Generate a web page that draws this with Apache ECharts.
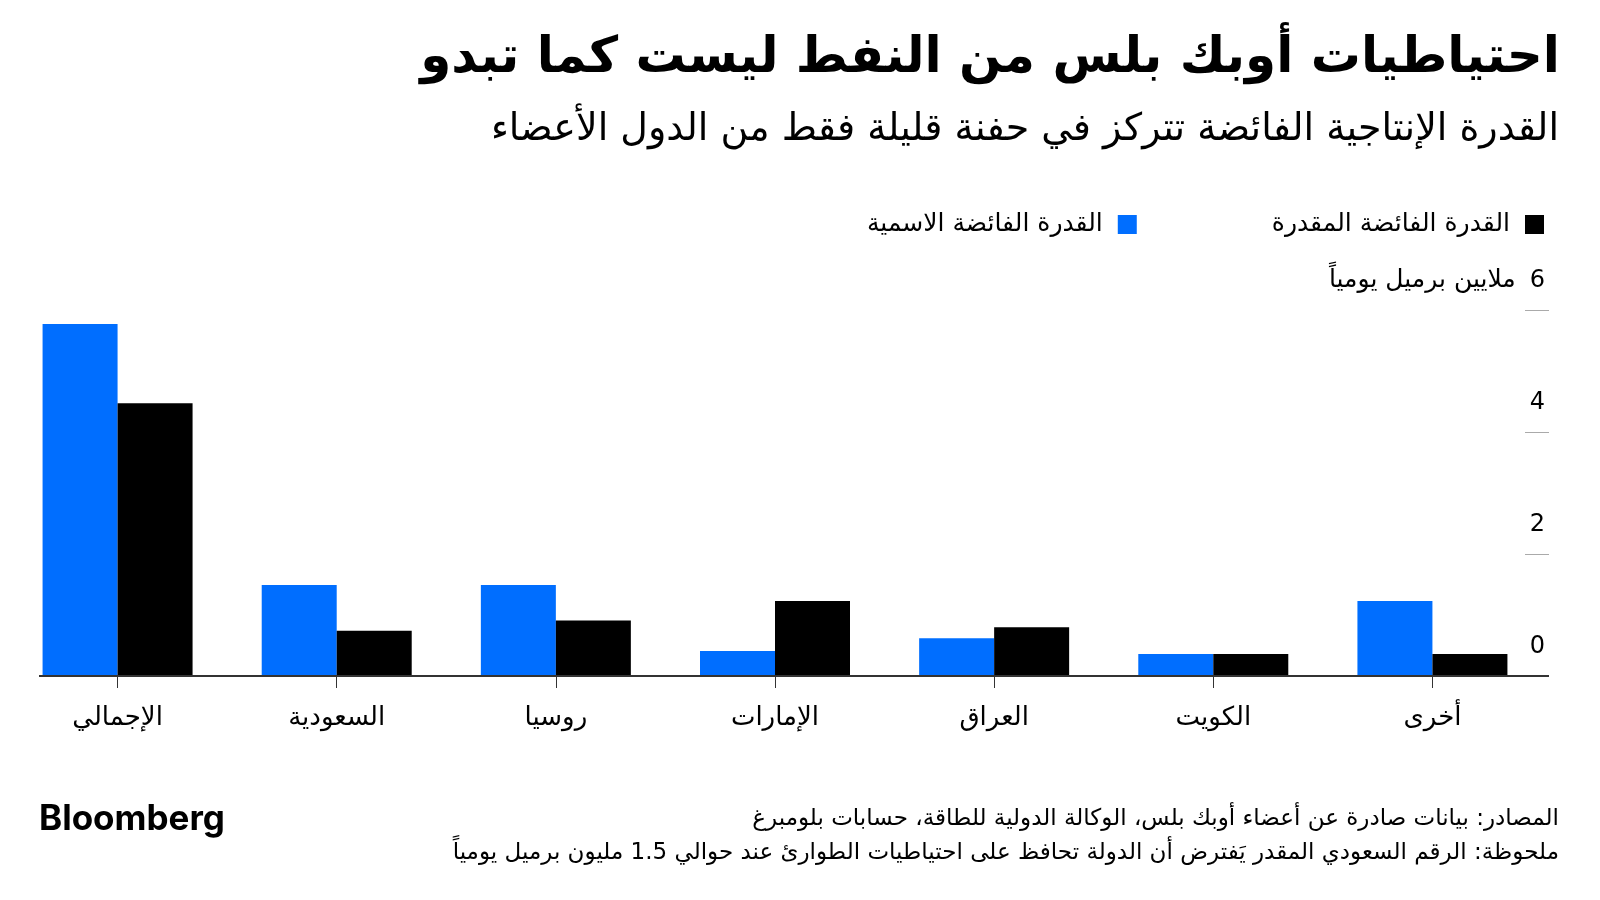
<!DOCTYPE html>
<html>
<head>
<meta charset="utf-8">
<script src="https://cdn.jsdelivr.net/npm/echarts@6/dist/echarts.min.js"></script>
<style>
  html, body { margin: 0; padding: 0; background: #fff; }
  #chart { width: 1600px; height: 900px; }
</style>
</head>
<body>
<div id="chart"></div>
<script>
// الفئات والقيم (ملايين برميل يومياً)
const categories = ['الإجمالي', 'السعودية', 'روسيا', 'الإمارات', 'العراق', 'الكويت', 'أخرى'];
const nominalSpare = [5.77, 1.49, 1.49, 0.41, 0.62, 0.36, 1.23];   // القدرة الفائضة الاسمية
const estimatedSpare = [4.47, 0.74, 0.91, 1.23, 0.80, 0.36, 0.36]; // القدرة الفائضة المقدرة
const yMin = 0, yMax = 6, yStep = 2;

const arabicFont = "'DejaVu Sans', sans-serif";
const unitLabel = 'ملايين برميل يومياً';

var chart = echarts.init(document.getElementById('chart'));

chart.setOption({
  animation: false,
  backgroundColor: '#fff',
  color: ['#006eff', '#000000'],
  textStyle: { fontFamily: arabicFont, color: '#000' },
  title: [{
    text: 'احتياطيات أوبك بلس من النفط ليست كما تبدو',
    right: 35,
    top: 29,
    textStyle: { fontSize: 50, fontWeight: 'bold', fontFamily: arabicFont, color: '#000' }
  }, {
    text: 'القدرة الإنتاجية الفائضة تتركز في حفنة قليلة فقط من الدول الأعضاء',
    right: 36,
    top: 106,
    textStyle: { fontSize: 38, fontWeight: 'normal', fontFamily: arabicFont, color: '#000' }
  }, {
    text: 'المصادر: بيانات صادرة عن أعضاء أوبك بلس، الوكالة الدولية للطاقة، حسابات بلومبرغ',
    right: 36,
    top: 803,
    textStyle: { fontSize: 23, fontWeight: 'normal', fontFamily: arabicFont, color: '#000' }
  }, {
    text: 'ملحوظة: الرقم السعودي المقدر يَفترض أن الدولة تحافظ على احتياطيات الطوارئ عند حوالي 1.5 مليون برميل يومياً',
    right: 36,
    top: 837,
    textStyle: { fontSize: 23, fontWeight: 'normal', fontFamily: arabicFont, color: '#000' }
  }, {
    text: 'Bloomberg',
    left: 34,
    top: 797,
    textStyle: { fontSize: 35, fontWeight: 'bold', fontFamily: 'Inter, Roboto, sans-serif', color: '#000' }
  }],
  legend: {
    data: ['القدرة الفائضة الاسمية', 'القدرة الفائضة المقدرة'],
    right: 51,
    top: 207,
    align: 'right',
    icon: 'rect',
    itemWidth: 19,
    itemHeight: 19,
    itemGap: 135,
    selectedMode: false,
    textStyle: { fontSize: 25, fontFamily: arabicFont, color: '#000', padding: [0, 10, 0, 0] }
  },
  grid: {
    left: 8,
    right: 58,
    top: 310,
    bottom: 224,
    containLabel: false
  },
  xAxis: {
    type: 'category',
    data: categories,
    axisLine: { show: false },
    axisTick: { show: true, alignWithLabel: true, length: 12, lineStyle: { color: '#333', width: 1 } },
    axisLabel: { margin: 29, fontSize: 26, fontFamily: arabicFont, color: '#000' },
    splitLine: { show: false }
  },
  yAxis: {
    type: 'value',
    position: 'right',
    offset: 7,
    min: yMin,
    max: yMax,
    interval: yStep,
    axisLine: { show: false },
    axisTick: { show: true, inside: true, length: 24, lineStyle: { color: '#aaa', width: 1 } },
    splitLine: { show: false },
    axisLabel: {
      inside: true,
      margin: 4,
      align: 'right',
      verticalAlign: 'bottom',
      padding: [0, 0, 17, 0],
      fontSize: 24,
      fontFamily: arabicFont,
      color: '#000',
      formatter: function (value) {
        if (value === yMax) {
          return '{u|' + unitLabel + '}{n|' + value + '}';
        }
        return '{n|' + value + '}';
      },
      rich: {
        u: { fontSize: 25, fontFamily: arabicFont, color: '#000', padding: [0, 14, 0, 0] },
        n: { fontSize: 24, fontFamily: arabicFont, color: '#000' }
      }
    }
  },
  series: [{
    name: 'القدرة الفائضة الاسمية',
    type: 'bar',
    data: nominalSpare,
    barWidth: 75,
    barGap: '0%'
  }, {
    name: 'القدرة الفائضة المقدرة',
    type: 'bar',
    data: estimatedSpare,
    barWidth: 75,
    barGap: '0%'
  }]
});

// خط القاعدة من حافة الرسم اليسرى إلى نهاية علامات المحور
var baseY = chart.convertToPixel({ yAxisIndex: 0 }, 0);
chart.setOption({
  graphic: [{
    type: 'line',
    shape: { x1: 39, y1: baseY, x2: 1549, y2: baseY },
    style: { stroke: '#333', lineWidth: 2 },
    z: 10
  }]
});
</script>
</body>
</html>
